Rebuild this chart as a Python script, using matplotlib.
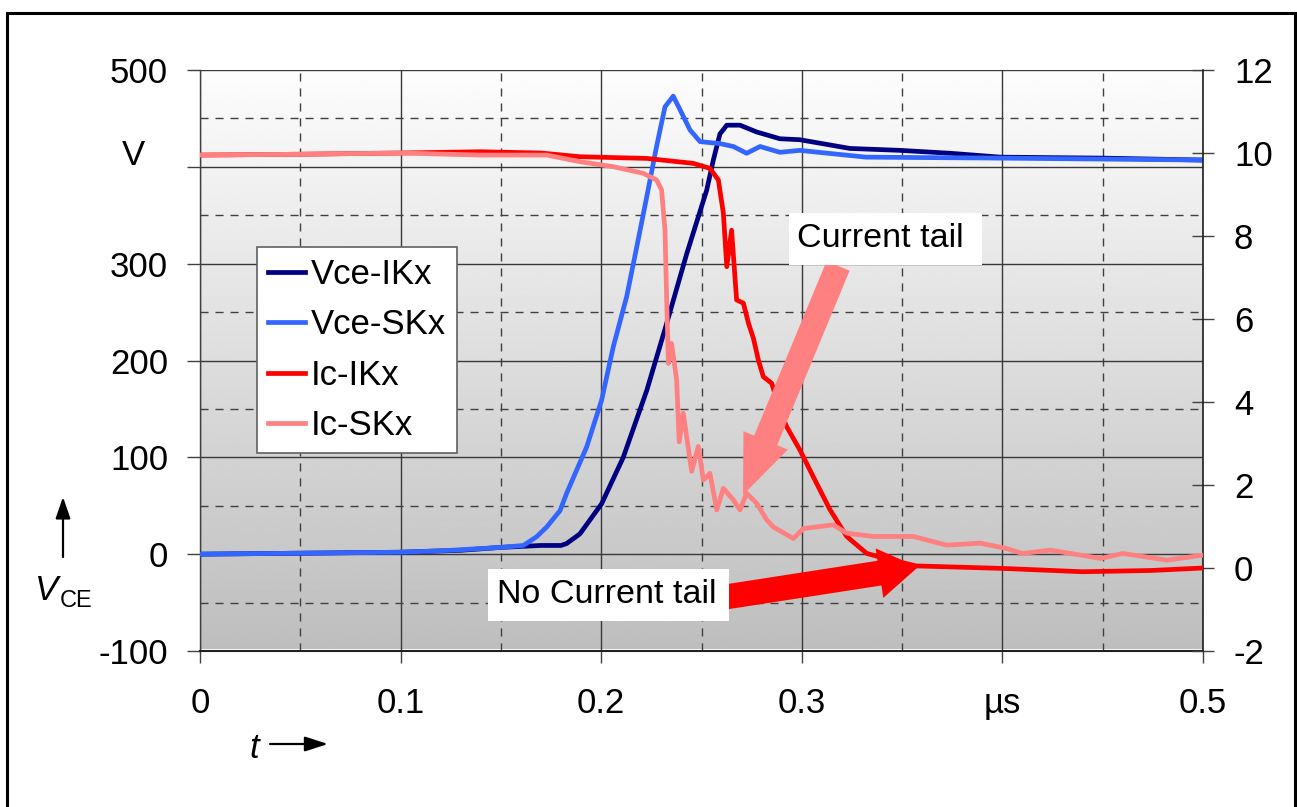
import numpy as np
import matplotlib
matplotlib.use("Agg")
import matplotlib.pyplot as plt
from matplotlib.patches import Rectangle, FancyArrowPatch
from matplotlib.lines import Line2D

plt.rcParams['font.family'] = ['Liberation Sans', 'DejaVu Sans']
plt.rcParams['axes.unicode_minus'] = False

# ---------------- data ----------------
t_vce_ikx = [0, 0.05, 0.10, 0.13, 0.15, 0.17, 0.180, 0.1828, 0.1894, 0.2002, 0.2110,
             0.2227, 0.2326, 0.2426, 0.2526, 0.2559, 0.2592, 0.2626, 0.2692, 0.2775,
             0.2891, 0.299, 0.324, 0.349, 0.374, 0.399, 0.45, 0.5]
v_vce_ikx = [0, 1, 2, 4, 7, 9, 9, 11, 21, 52, 100, 169, 238, 310, 376, 407, 434, 443,
             443, 436, 429, 428, 419, 417, 414, 410, 409, 407]

t_vce_skx = [0, 0.05, 0.10, 0.125, 0.15, 0.1612, 0.1678, 0.1728, 0.1795, 0.1828, 0.1928,
             0.2002, 0.2060, 0.2127, 0.2177, 0.2227, 0.2276, 0.2318, 0.2359, 0.2393,
             0.2443, 0.2493, 0.2592, 0.2659, 0.2725, 0.2792, 0.2891, 0.299, 0.332,
             0.399, 0.45, 0.5]
v_vce_skx = [0, 1, 2, 4, 7, 9, 18, 28, 45, 63, 111, 159, 214, 266, 317, 369, 421, 462,
             473, 459, 438, 426, 424, 421, 414, 421, 415, 417, 410, 409, 408, 407]

t_ic_ikx = [0, 0.05, 0.10, 0.1396, 0.17, 0.1894, 0.2227, 0.2459, 0.2542, 0.2584, 0.2609,
            0.2626, 0.2650, 0.2675, 0.2709, 0.2734, 0.2759, 0.2784, 0.2808, 0.2850,
            0.2891, 0.2924, 0.2991, 0.3057, 0.3141, 0.3224, 0.3324, 0.344, 0.357,
            0.40, 0.44, 0.474, 0.5]
i_ic_ikx = [9.95, 9.97, 10.0, 10.03, 10.0, 9.91, 9.87, 9.75, 9.63, 9.35, 8.55,
            7.26, 8.14, 6.46, 6.38, 5.9, 5.53, 5.0, 4.61, 4.45, 3.81, 3.41, 2.84,
            2.20, 1.40, 0.76, 0.35, 0.20, 0.05, -0.01, -0.09, -0.06, 0.0]

t_ic_skx = [0, 0.05, 0.10, 0.1396, 0.1728, 0.1894, 0.206, 0.221, 0.2276, 0.2301, 0.2318,
            0.2326, 0.2335, 0.2351, 0.2376, 0.2389, 0.2409, 0.2451, 0.2484, 0.2509,
            0.2542, 0.2576, 0.2609, 0.2659, 0.2692, 0.2725, 0.2775, 0.2825, 0.2858,
            0.2958, 0.3008, 0.3157, 0.3224, 0.3357, 0.3556, 0.3722, 0.3888, 0.402,
            0.41, 0.424, 0.449, 0.46, 0.482, 0.5]
i_ic_skx = [9.95, 9.97, 10.0, 9.95, 9.95, 9.79, 9.67, 9.51, 9.35, 9.11, 8.14,
            6.54, 4.93, 5.41, 4.53, 3.04, 3.73, 2.33, 2.93, 2.12,
            2.28, 1.40, 1.92, 1.64, 1.40, 1.80, 1.56, 1.16, 0.99,
            0.71, 0.95, 1.04, 0.84, 0.76, 0.76, 0.55, 0.60, 0.47,
            0.35, 0.43, 0.23, 0.35, 0.19, 0.31]

series_labels = ['Vce-IKx', 'Vce-SKx', 'Ic-IKx', 'Ic-SKx']
series_colors = ['#000080', '#3366FF', '#FF0000', '#FF8080']

x_ticks = [0, 0.1, 0.2, 0.3, 0.4, 0.5]
x_tick_labels = ['0', '0.1', '0.2', '0.3', 'µs', '0.5']
v_ticks = [-100, 0, 100, 200, 300, 400, 500]
v_tick_labels = ['-100', '0', '100', '200', '300', '', '500']
i_ticks = [-2, 0, 2, 4, 6, 8, 10, 12]

# ---------------- figure ----------------
W, H = 1297, 807
fig = plt.figure(figsize=(W / 100, H / 100), dpi=100)
L, R, T, B = 200, 1203, 70, 651
ax = fig.add_axes([L / W, 1 - B / H, (R - L) / W, (B - T) / H])

# gradient background (ends just above the bottom axis line)
grad = np.linspace(0.745, 0.99, 256).reshape(-1, 1)
ax.imshow(grad, extent=[0, 1, 0.004, 1], transform=ax.transAxes, aspect='auto',
          cmap='gray', vmin=0, vmax=1, origin='lower', zorder=-2, interpolation='bilinear')

ax.set_xlim(0, 0.5)
ax.set_ylim(-100, 500)

# grid
ax.set_xticks(x_ticks)
ax.set_xticklabels(x_tick_labels)
ax.set_xticks(np.arange(0.05, 0.5, 0.1), minor=True)
ax.set_yticks(v_ticks)
ax.set_yticklabels(v_tick_labels)
ax.set_yticks(np.arange(-50, 500, 100), minor=True)
ax.grid(True, which='major', color='#383838', linewidth=1.0, linestyle='-', zorder=-1)
ax.grid(True, which='minor', color='#404040', linewidth=1.0, linestyle=(0, (5.8, 5.0)), zorder=-1)
ax.set_axisbelow(True)

for s in ['top', 'right']:
    ax.spines[s].set_visible(False)
ax.spines['left'].set_color('#404040')
ax.spines['bottom'].set_color('#202020')
ax.spines['left'].set_linewidth(1.0)
ax.spines['bottom'].set_linewidth(1.5)

ax.tick_params(axis='both', which='minor', length=0)
ax.tick_params(axis='y', which='major', direction='out', length=9.4, width=1.0,
               color='#404040', labelsize=25, pad=13.5)
ax.tick_params(axis='x', which='major', direction='out', length=8.6, width=1.0,
               color='#404040', labelsize=25, pad=17)

lw = 3.4
ax.plot(t_vce_ikx, v_vce_ikx, color=series_colors[0], lw=lw, solid_joinstyle='round', zorder=3)
ax.plot(t_vce_skx, v_vce_skx, color=series_colors[1], lw=lw, solid_joinstyle='round', zorder=4)

ax2 = ax.twinx()
ax2.set_ylim(-2, 12)
ax2.set_yticks(i_ticks)
for s in ['top', 'left', 'bottom']:
    ax2.spines[s].set_visible(False)
ax2.spines['right'].set_color('#202020')
ax2.spines['right'].set_linewidth(1.2)
ax2.tick_params(axis='y', direction='inout', length=16.5, width=1.0, color='#404040',
                labelsize=25, pad=14)
ax2.plot(t_ic_ikx, i_ic_ikx, color=series_colors[2], lw=lw, solid_joinstyle='round', zorder=3)
ax2.plot(t_ic_skx, i_ic_skx, color=series_colors[3], lw=lw, solid_joinstyle='round', zorder=4)

# unit label "V"
ax.text(-0.0668, 0.8365, 'V', transform=ax.transAxes, ha='center', va='baseline', fontsize=25)

# annotation arrows (data coords of current axis)
pink_arrow = FancyArrowPatch((0.3181, 7.28), (0.2707, 1.76),
                             arrowstyle='simple,head_length=4.25,head_width=3.46,tail_width=1.8',
                             mutation_scale=10, color='#FF8080', lw=0, zorder=6,
                             shrinkA=0, shrinkB=0)
ax2.add_patch(pink_arrow)
red_arrow = FancyArrowPatch((0.2617, -0.70), (0.3579, 0.02),
                            arrowstyle='simple,head_length=2.8,head_width=3.6,tail_width=1.8',
                            mutation_scale=10, color='#FF0000', lw=0, zorder=6,
                            shrinkA=0, shrinkB=0)
ax2.add_patch(red_arrow)

# text boxes
def axfrac(px, py):
    return (px - L) / (R - L), (B - py) / (B - T)

x0, y1 = axfrac(789, 213)
x1, y0 = axfrac(982, 265)
ax2.add_patch(Rectangle((x0, y0), x1 - x0, y1 - y0, transform=ax2.transAxes,
                        facecolor='white', edgecolor='none', zorder=7))
tx, ty = axfrac(797, 247)
ax2.text(tx, ty, 'Current tail', transform=ax2.transAxes, fontsize=24.5,
         ha='left', va='baseline', zorder=8)

x0, y1 = axfrac(488, 569)
x1, y0 = axfrac(729, 621)
ax2.add_patch(Rectangle((x0, y0), x1 - x0, y1 - y0, transform=ax2.transAxes,
                        facecolor='white', edgecolor='none', zorder=7))
tx, ty = axfrac(497, 603)
ax2.text(tx, ty, 'No Current tail', transform=ax2.transAxes, fontsize=24.5,
         ha='left', va='baseline', zorder=8)

# legend
handles = [Line2D([], [], color=c, lw=3.4) for c in series_colors]
lx, ly = axfrac(257, 247)
leg = ax2.legend(handles, series_labels, loc='upper left', bbox_to_anchor=(lx, ly),
                 bbox_transform=ax2.transAxes, borderaxespad=0, fontsize=25,
                 frameon=True, fancybox=False, framealpha=1, edgecolor='#606060',
                 handlelength=1.05, handletextpad=0.18, labelspacing=0.5,
                 borderpad=0.32)
leg.get_frame().set_linewidth(1.2)
leg.set_zorder(9)

# axis titles with arrows
fig.text(35 / W, 1 - 600 / H, 'V', fontsize=25, style='italic', ha='left', va='baseline')
fig.text(60 / W, 1 - 607 / H, 'CE', fontsize=17, ha='left', va='baseline')
fig.text(249 / W, 1 - 758 / H, 't', fontsize=25, style='italic', ha='left', va='baseline')
fig.add_artist(FancyArrowPatch((63 / W, 1 - 557 / H), (63 / W, 1 - 497 / H),
                               transform=fig.transFigure,
                               arrowstyle='-|>,head_length=1.3,head_width=0.45',
                               mutation_scale=10, color='black', lw=1.6,
                               shrinkA=0, shrinkB=0))
fig.add_artist(FancyArrowPatch((270 / W, 1 - 744 / H), (328 / W, 1 - 744 / H),
                               transform=fig.transFigure,
                               arrowstyle='-|>,head_length=1.4,head_width=0.45',
                               mutation_scale=10, color='black', lw=1.6,
                               shrinkA=0, shrinkB=0))

# outer frame
fig.add_artist(Rectangle((7 / W, -0.05), (1295 - 7) / W, 1.05 - 13 / H,
                         transform=fig.transFigure, fill=False, edgecolor='black',
                         linewidth=2.2))

fig.savefig('out.png', dpi=100)
